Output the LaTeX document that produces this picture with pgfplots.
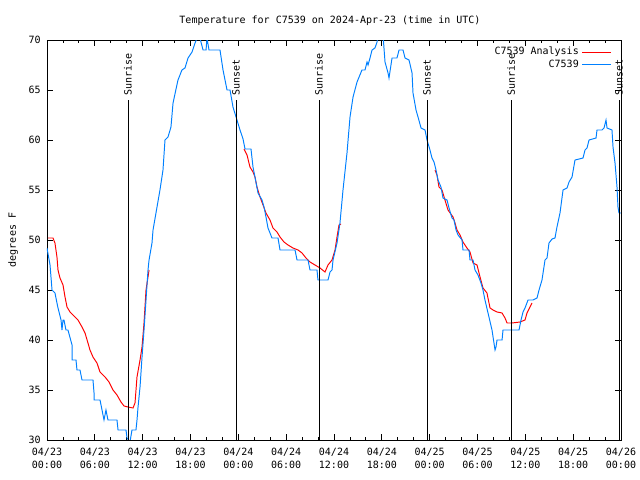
\documentclass[border=0pt]{standalone}
\usepackage{pgfplots}
\pgfplotsset{compat=1.18}
\usepackage{fontspec}
\setmainfont{DejaVu Sans Mono}
\setmonofont{DejaVu Sans Mono}
\definecolor{anared}{RGB}{255,0,0}
\definecolor{obsblue}{RGB}{0,128,255}
\newcommand{\gfont}{\fontsize{7.2}{9.4}\selectfont}
\begin{document}
\begin{tikzpicture}
\useasboundingbox (-33.84pt,-28.8pt) rectangle (426.96pt,316.8pt);
\begin{axis}[
  scale only axis,
  width=413.28pt, height=288pt,
  at={(0,0)}, anchor=south west,
  xmin=0, xmax=72, ymin=30, ymax=70,
  xtick={0,6,...,72},
  xticklabels={04/23\\00:00,04/23\\06:00,04/23\\12:00,04/23\\18:00,04/24\\00:00,04/24\\06:00,04/24\\12:00,04/24\\18:00,04/25\\00:00,04/25\\06:00,04/25\\12:00,04/25\\18:00,04/26\\00:00},
  minor x tick num=2,
  ytick={30,35,...,70},
  /pgf/number format/assume math mode=true,
  tick label style={font=\gfont},
  xticklabel style={align=center, yshift=-2.5pt},
  yticklabel style={xshift=-1pt},
  tick align=inside,
  major tick length=4.3pt,
  minor tick length=2.2pt,
  every tick/.style={black, line width=0.6pt},
  axis line style={line width=0.7pt},
  title={Temperature for C7539 on 2024-Apr-23 (time in UTC)},
  title style={font=\gfont, at={(0.493,1)}, anchor=south, yshift=0.8pt},
  ylabel={degrees F},
  ylabel style={font=\gfont, at={(axis description cs:-0.059,0.5)}, anchor=center},
  clip mode=individual,
  unbounded coords=jump,
  legend style={font=\gfont, draw=none, fill=none, at={(1,1)}, anchor=north east, xshift=-6pt, yshift=-2pt, inner sep=1pt, row sep=-1.8pt},
  legend cell align=right,
  legend plot pos=right,
  legend image code/.code={\draw[#1] (0cm,0cm) -- (0.72cm,0cm);},
]
\addplot[anared, line width=0.7pt] coordinates {
(0.13,50.2)(0.75,50.2)(1.00,49.7)(1.25,48.3)(1.38,47)(1.63,46.2)(2.01,45.5)(2.26,44.3)(2.51,43.3)(2.89,42.8)(3.51,42.3)(3.89,42)(4.39,41.3)(4.77,40.7)(5.14,39.7)(5.39,39)(5.77,38.3)(6.27,37.7)(6.65,36.8)(7.28,36.3)(7.78,35.8)(8.28,35)(8.78,34.5)(9.28,33.8)(9.66,33.4)(10.16,33.3)(10.79,33.2)(11.04,33.7)(11.29,36.3)(11.67,38)(11.92,39.3)(12.17,41.7)(12.42,45)(12.67,46.3)(12.80,47)
(18,nan)
(24.71,59.1)(25.09,58.5)(25.46,57.3)(25.84,56.8)(26.09,56.3)(26.34,55.3)(26.72,54.3)(27.10,53.5)(27.47,52.7)(27.97,52)(28.35,51.2)(28.85,50.8)(29.23,50.3)(29.73,49.8)(30.23,49.5)(30.86,49.2)(31.49,49)(31.99,48.7)(32.49,48.2)(32.99,47.8)(33.62,47.5)(34.25,47.2)(34.87,46.8)(35.25,47.5)(35.75,48)(36.13,49)(36.38,50.3)(36.63,51.5)(36.88,51.6)
(42,nan)
(48.67,57)(48.92,56.5)(49.17,55.3)(49.55,55)(49.92,54)(50.30,53)(50.93,52.3)(51.18,51.7)(51.43,51)(51.81,50.5)(52.18,49.8)(52.68,49.2)(53.06,48.8)(53.44,47.7)(53.94,47.5)(54.32,46.3)(54.69,45.2)(55.19,44.7)(55.57,43.2)(55.95,43)(56.45,42.8)(57.08,42.7)(57.45,42.2)(57.71,41.7)(58.33,41.7)(59.33,41.8)(59.96,42)(60.21,42.7)(60.59,43.3)(60.84,43.7)
};
\addlegendentry{C7539 Analysis}
\addplot[obsblue, line width=0.7pt] coordinates {
(0,49.2)(0.38,47.5)(0.63,45)(1.00,44.7)(1.38,43.2)(1.76,42)(1.88,41)(2.01,42)(2.13,42)(2.38,41)(2.63,41)(3.14,39.5)(3.14,38)(3.64,38)(3.76,37)(4.14,37)(4.39,36)(5.77,36)(5.90,34.7)(5.90,34)(6.65,34)(6.90,33)(7.15,32)(7.40,33)(7.65,32)(8.78,32)(8.91,31)(9.91,31)(10.04,30.2)(10.41,29.8)(10.66,31)(11.16,31)(11.29,32)(11.42,33.3)(11.67,35.3)(11.92,38.3)(12.17,41)(12.42,44)(12.67,47)(12.80,48)(13.17,49.7)(13.30,51)(13.80,53.3)(14.17,55)(14.55,57)(14.80,60)(15.18,60.3)(15.55,61.3)(15.81,63.7)(16.43,66)(16.93,67)(17.31,67.2)(17.69,68.2)(18.19,68.8)(18.57,69.7)(18.82,70.2)(19.19,70.2)(19.57,69)(19.95,69)(20.07,70.2)(20.32,69)(21.70,69)(22.08,67)(22.58,65)(22.96,65)(23.33,63.3)(23.83,62)(24.21,61)(24.59,60.1)(24.84,59.1)(25.59,59.1)(25.84,57.3)(26.09,56.3)(26.47,54.7)(26.97,54)(27.22,53.3)(27.47,52.3)(27.72,51.2)(28.22,50.2)(28.98,50.2)(29.23,49)(31.11,49)(31.36,48)(32.74,48)(32.99,47)(33.87,47)(33.99,46)(35.25,46)(35.50,46.8)(35.75,47)(35.88,48)(36.38,49.7)(36.75,51.7)(37.13,55)(37.63,58.7)(38.01,62.3)(38.39,64.3)(38.89,65.8)(39.51,67)(39.89,67)(40.14,67.8)(40.27,67.5)(40.52,68.2)(40.77,69)(41.14,69.2)(41.40,69.8)(41.52,70.5)(42.15,70.5)(42.40,67.8)(42.78,66.7)(42.90,66.2)(43.28,68.2)(43.90,68.2)(44.16,69)(44.66,69)(44.91,68.2)(45.41,68)(45.79,66.7)(45.91,64.7)(46.29,63)(46.54,62.3)(46.92,61.2)(47.42,61)(47.67,60)(48.04,59)(48.29,58.2)(48.55,57.8)(48.80,57)(49.05,56)(49.42,55.3)(49.67,54.2)(50.18,54)(50.43,53.2)(50.80,52.2)(51.05,52)(51.31,51)(51.56,50.5)(52.06,50)(52.18,49)(52.94,49)(53.06,48)(53.44,48)(53.69,47)(54.06,46.5)(54.44,45.7)(54.69,45)(54.94,44)(55.32,42.7)(55.82,41)(56.20,39)(56.32,39.3)(56.45,40)(57.08,40)(57.20,41)(59.21,41)(59.46,42)(59.71,42.8)(59.96,43.2)(60.34,44)(60.96,44)(61.47,44.2)(61.72,45)(62.09,46)(62.47,48)(62.72,48.2)(62.97,49.7)(63.35,50.1)(63.72,50.2)(63.97,51.3)(64.35,52.7)(64.73,55)(65.23,55.2)(65.48,55.8)(65.86,56.3)(66.23,58)(67.24,58.2)(67.49,59)(67.74,59.2)(67.99,60)(68.87,60.2)(68.99,61)(69.62,61)(69.87,61.2)(70.12,62)(70.25,61.2)(70.87,61)(71.00,59.3)(71.25,57.7)(71.50,55.3)(71.62,53.3)(71.75,52.7)(72,52.7)
};
\addlegendentry{C7539}
\addplot[black, line width=0.7pt, forget plot] coordinates {(10.16,30)(10.16,64)};
\addplot[black, line width=0.7pt, forget plot] coordinates {(23.71,30)(23.71,64)};
\addplot[black, line width=0.7pt, forget plot] coordinates {(34.12,30)(34.12,64)};
\addplot[black, line width=0.7pt, forget plot] coordinates {(47.67,30)(47.67,64)};
\addplot[black, line width=0.7pt, forget plot] coordinates {(58.21,30)(58.21,64)};
\addplot[black, line width=0.7pt, forget plot] coordinates {(71.75,30)(71.75,64)};
\node[rotate=90, anchor=west, inner sep=3pt, font=\gfont] at (axis cs:10.16,64) {Sunrise};
\node[rotate=90, anchor=west, inner sep=3pt, font=\gfont] at (axis cs:23.71,64) {Sunset};
\node[rotate=90, anchor=west, inner sep=3pt, font=\gfont] at (axis cs:34.12,64) {Sunrise};
\node[rotate=90, anchor=west, inner sep=3pt, font=\gfont] at (axis cs:47.67,64) {Sunset};
\node[rotate=90, anchor=west, inner sep=3pt, font=\gfont] at (axis cs:58.21,64) {Sunrise};
\node[rotate=90, anchor=west, inner sep=3pt, font=\gfont] at (axis cs:71.75,64) {Sunset};
\end{axis}
\end{tikzpicture}
\end{document}
